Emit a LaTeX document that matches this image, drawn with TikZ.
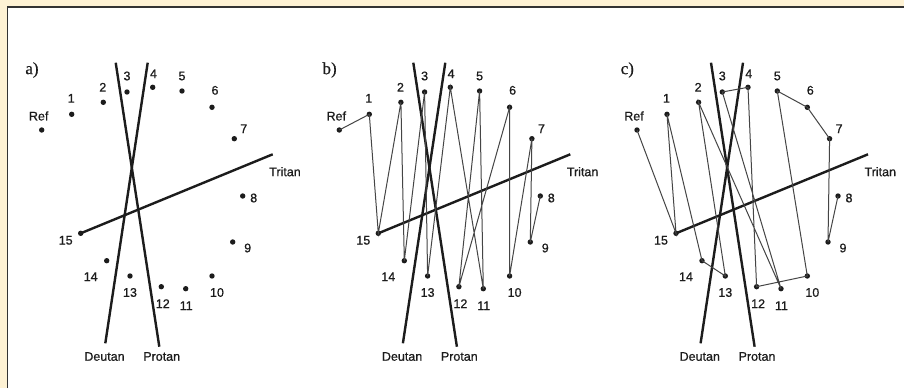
\documentclass[tikz,border=0pt]{standalone}
\usepackage{fontspec}
\setmainfont[FakeBold=0.6]{Liberation Sans}
\newfontfamily\lblfont[FakeBold=0.8]{Liberation Sans}
\newfontfamily\tagfont[FakeBold=0.6]{Liberation Serif}
\definecolor{framebeige}{HTML}{FEF2D4}
\definecolor{ink}{HTML}{1C1C1C}
\definecolor{thin}{HTML}{454545}
\newcommand\capspanel[1]{%
  \foreach \n/\t/\x/\y/\dx/\dy in {
    ref/Ref/41.7/130/-3/-14,
    n1/1/71.7/114.3/-0.5/-16,
    n2/2/103.3/102.3/-0.5/-15,
    n3/3/127/92/0/-16,
    n4/4/152.7/87.3/0.8/-13.5,
    n5/5/182/91/0/-15,
    n6/6/212/107.3/3/-17,
    n7/7/234.3/138.7/9.5/-10,
    n8/8/242.7/196/11/2,
    n9/9/232.7/242/15/6,
    n10/10/212/276/5/16.5,
    n11/11/185.7/288.7/0.5/17,
    n12/12/161.3/286.7/1.5/17,
    n13/13/130/276/0/16.5,
    n14/14/106.7/260.7/-16/16,
    n15/15/80.7/233.3/-15/7}{
    \node[dot] (\n) at (\x,\y) {};
    \node[lbl] (\n-l) at ([shift={(\dx,\dy)}]\n.center) {\t};
  }
  \node[tag] (tag) at (32,70) {#1};
  \coordinate (tri) at (272.7,154.3);
  \coordinate (deutop) at (147.7,62.7);
  \coordinate (deubot) at (105.3,343.3);
  \coordinate (protop) at (115.7,62.7);
  \coordinate (probot) at (159.3,346.7);
  \node[lbl] (tritan) at (285,171.7) {Tritan};
  \node[lbl] (deutan) at (104.5,356.5) {Deutan};
  \node[lbl] (protan) at (161.7,356.5) {Protan};
  \draw[axis] (n15.center) -- (tri);
  \draw[axis] (deubot) -- (deutop);
  \draw[axis] (protop) -- (probot);
}
\begin{document}
\begin{tikzpicture}[x=1pt,y=-1pt,
  dot/.style={circle,fill=ink,inner sep=0pt,minimum size=5.4pt},
  lbl/.style={font=\lblfont\fontsize{12.5}{12.5}\selectfont,text=ink,inner sep=0pt},
  axis/.style={line width=2.4pt,draw=ink},
  conn/.style={line width=1pt,draw=thin},
  tag/.style={font=\tagfont\fontsize{17}{17}\selectfont,text=ink,inner sep=0pt}]
\useasboundingbox (0,0) rectangle (904,388);
\fill[framebeige] (0,0) rectangle (904,388);
\fill[white] (7.5,7) rectangle (904,388);
\draw[line width=1.6pt,draw=black!80] (7.5,388) -- (7.5,7) -- (904,7);

\begin{scope}[name prefix=a-]
  \capspanel{a)}
\end{scope}

\begin{scope}[xshift=297.6pt,name prefix=b-]
  \capspanel{b)}
  \draw[conn] (ref.center) -- (n1.center) -- (n15.center) -- (n2.center)
    -- (n14.center) -- (n3.center) -- (n13.center) -- (n4.center)
    -- (n11.center) -- (n5.center) -- (n12.center) -- (n6.center)
    -- (n10.center) -- (n7.center) -- (n9.center) -- (n8.center);
\end{scope}

\begin{scope}[xshift=595.3pt,name prefix=c-]
  \capspanel{c)}
  \draw[conn] (ref.center) -- (n15.center) -- (n1.center) -- (n14.center)
    -- (n13.center) -- (n2.center) -- (n11.center) -- (n3.center)
    -- (n4.center) -- (n12.center) -- (n10.center) -- (n5.center)
    -- (n6.center) -- (n7.center) -- (n9.center) -- (n8.center);
\end{scope}
\end{tikzpicture}
\end{document}
